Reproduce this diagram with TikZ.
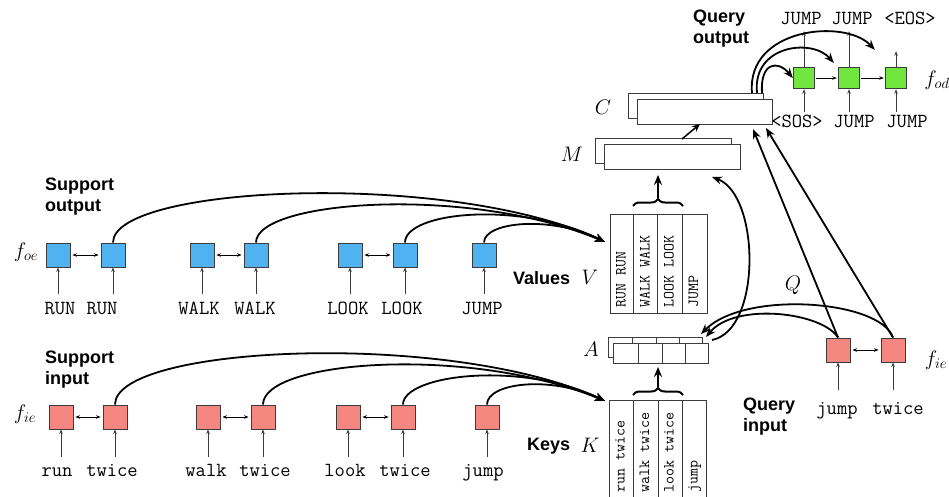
\RequirePackage{fix-cm}
\documentclass[tikz,border=0pt]{standalone}
\usepackage{fontspec}
\newfontfamily\headfont{Liberation Sans}
\usetikzlibrary{arrows.meta,decorations.pathreplacing,calc}
\definecolor{skyblue}{RGB}{80,178,240}
\definecolor{salmon}{RGB}{245,135,128}
\definecolor{lime}{RGB}{112,230,62}
\definecolor{edge}{RGB}{60,60,60}
\begin{document}
\begin{tikzpicture}[x=1pt,y=-1pt,
  cell/.style={draw=edge, line width=0.9pt, minimum size=24pt, inner sep=0pt},
  ocell/.style={cell, fill=skyblue},
  icell/.style={cell, fill=salmon},
  dcell/.style={cell, fill=lime, minimum size=21.5pt},
  tok/.style={font={\ttfamily\fontsize{20}{22}\selectfont}, inner sep=0pt, text height=11pt, text depth=3pt},
  vtok/.style={font={\ttfamily\fontsize{15.5}{16}\selectfont}, inner sep=0pt, rotate=90, anchor=west, text height=9pt, text depth=2pt},
  head/.style={font={\headfont\bfseries\fontsize{18}{21}\selectfont}, align=left, inner sep=0pt, anchor=west},
  sym/.style={font={\fontsize{21}{23}\selectfont}, inner sep=0pt},
  feed/.style={draw=edge, line width=0.8pt, -{Stealth[length=4.5pt,width=3.5pt]}},
  pair/.style={draw=black, line width=0.8pt, {Stealth[length=4.5pt,width=3.5pt]}-{Stealth[length=4.5pt,width=3.5pt]}, shorten <=2pt, shorten >=2pt},
  chain/.style={draw=black, line width=0.8pt, -{Stealth[length=4.5pt,width=3.5pt]}, shorten <=1pt, shorten >=1pt},
  link/.style={line width=1.8pt, -{Stealth[length=10pt,width=8pt]}},
  panel/.style={draw=edge, line width=0.9pt, fill=white, inner sep=0pt, anchor=north west},
  divider/.style={draw=edge, line width=0.9pt},
  bracket/.style={line width=2pt, decorate, decoration={brace, amplitude=7pt}},
]
\useasboundingbox (0,0) rectangle (949,497);

% ---------------- support output (blue encoder cells)
\foreach \n/\x in {1/58,2/113,3/202,4/256,5/350,6/405,7/484}
  \node[ocell] (so\n) at (\x,255) {};
\foreach \n/\x/\t in {1/60/RUN,2/102/RUN,3/199/WALK,4/255/WALK,5/348/LOOK,6/402/LOOK,7/482/JUMP}
  \node[tok] (wo\n) at (\x,310) {\t};
\foreach \n in {1,...,7}
  \draw[feed] ($(so\n.south |- wo\n.north)+(0,-9)$) -- (so\n.south);
\draw[pair] (so1) -- (so2);
\draw[pair] (so3) -- (so4);
\draw[pair] (so5) -- (so6);
\node[sym] (foe) at (26,252) {$f_{oe}$};
\node[head] (sohead) at (45,197) {Support\\output};

% ---------------- support input (red encoder cells)
\foreach \n/\x in {1/61,2/115,3/208,4/263,5/348,6/403,7/487}
  \node[icell] (si\n) at (\x,417) {};
\foreach \n/\x/\t in {1/57/run,2/112/twice,3/206/walk,4/265/twice,5/345/look,6/405/twice,7/483/jump}
  \node[tok] (wi\n) at (\x,472) {\t};
\foreach \n in {1,...,7}
  \draw[feed] ($(si\n.south |- wi\n.north)+(0,-8)$) -- (si\n.south);
\draw[pair] (si1) -- (si2);
\draw[pair] (si3) -- (si4);
\draw[pair] (si5) -- (si6);
\node[sym] (fie) at (25,414) {$f_{ie}$};
\node[head] (sihead) at (45,370) {Support\\input};

% ---------------- values V
\node[panel, minimum width=97pt, minimum height=99pt] (V) at (610,214) {};
\foreach \d in {23,47,72}
  \draw[divider] ([xshift=\d pt]V.north west) -- ([xshift=\d pt]V.south west);
\foreach \c/\t in {12/RUN RUN,36/WALK WALK,60/LOOK LOOK,84.5/JUMP}
  \node[vtok] at ([xshift=\c pt,yshift=6pt]V.south west) {\t};
\node[head] (vhead) at (513,278) {Values};
\node[sym] (vsym) at (590,277) {$V$};

% ---------------- keys K
\node[panel, minimum width=97pt, minimum height=100pt] (K) at (609,400) {};
\foreach \d in {24,49,73}
  \draw[divider] ([xshift=\d pt]K.north west) -- ([xshift=\d pt]K.south west);
\foreach \c/\t in {12/run twice,36.5/walk twice,61/look twice,85/jump}
  \node[vtok] at ([xshift=\c pt,yshift=8pt]K.south west) {\t};
\node[head] (khead) at (527,446) {Keys};
\node[sym] (ksym) at (590,445) {$K$};

% ---------------- attention A (stacked rows)
\node[panel, minimum width=94pt, minimum height=20pt] (Ab) at (608,337) {};
\foreach \d in {24,48,71}
  \draw[divider] ([xshift=\d pt]Ab.north west) -- ([xshift=\d pt]Ab.south west);
\node[panel, minimum width=95pt, minimum height=20pt] (A) at (613,343) {};
\foreach \d in {25,49,72}
  \draw[divider] ([xshift=\d pt]A.north west) -- ([xshift=\d pt]A.south west);
\node[sym] (asym) at (591,349) {$A$};

% ---------------- memory M and context C
\node[panel, minimum width=136pt, minimum height=25pt] (Mb) at (595,138) {};
\node[panel, minimum width=136pt, minimum height=25pt] (M) at (604,144) {};
\node[sym] (msym) at (572,154) {$M$};
\node[panel, minimum width=135pt, minimum height=25pt] (Cb) at (628,93) {};
\node[panel, minimum width=135pt, minimum height=25pt] (C) at (637,99) {};
\node[sym] (csym) at (603,107) {$C$};

% ---------------- braces gathering columns
\coordinate (vbl) at (633,206);
\coordinate (vbr) at (683,206);
\coordinate (vtip) at (658,198);
\draw[bracket] (vbl) -- (vbr);
\draw[link] (vtip) -- ($(vtip |- M.south)+(0,5)$);
\coordinate (kbl) at (633,395);
\coordinate (kbr) at (683,395);
\coordinate (ktip) at (658,387);
\draw[bracket] (kbl) -- (kbr);
\draw[link] (ktip) -- ($(ktip |- A.south)+(0,3)$);

% ---------------- query input (red cells)
\node[icell] (qi1) at (838,350) {};
\node[icell] (qi2) at (893,350) {};
\node[tok] (wq1) at (837,410) {jump};
\node[tok] (wq2) at (898,410) {twice};
\draw[feed] ($(qi1.south |- wq1.north)+(0,-13)$) -- (qi1.south);
\draw[feed] ($(qi2.south |- wq2.north)+(0,-13)$) -- (qi2.south);
\draw[pair] (qi1) -- (qi2);
\node[sym] (fie2) at (936,360) {$f_{ie}$};
\node[head] (qihead) at (743,417) {Query\\input};
\node[sym] (qsym) at (793,285) {$Q$};

% ---------------- query output (green decoder cells)
\node[dcell] (go1) at (804,78) {};
\node[dcell] (go2) at (849,78) {};
\node[dcell] (go3) at (896,78) {};
\draw[chain] (go1) -- (go2);
\draw[chain] (go2) -- (go3);
\node[tok] (gb1) at (797,124) {<SOS>};
\node[tok] (gb2) at (854,124) {JUMP};
\node[tok] (gb3) at (907,124) {JUMP};
\foreach \n in {1,2,3}
  \draw[feed] ($(go\n.south |- gb\n.north)+(0,-5)$) -- (go\n.south);
\node[tok] (gt1) at (801,21) {JUMP};
\node[tok] (gt2) at (852,21) {JUMP};
\node[tok] (gt3) at (910,21) {<EOS>};
\draw[feed] (go1.north) -- ($(go1.north |- gt1.south)+(0,3)$);
\draw[feed] (go2.north) -- ($(go2.north |- gt2.south)+(0,3)$);
\draw[feed] (go3.north) -- ($(go3.north |- gt3.south)+(0,23)$);
\node[sym] (fod) at (937,80) {$f_{od}$};
\node[head] (qohead) at (693,29) {Query\\output};

% ---------------- connectors
% support outputs into the value matrix
\coordinate (vin) at (605,242);
\draw[link] (so2.north) .. controls (113,185) and (450,170) .. (vin);
\draw[link] (so4.north) .. controls (256,200) and (470,185) .. (vin);
\draw[link] (so6.north) .. controls (405,212) and (520,200) .. (vin);
\draw[link] (so7.north) .. controls (484,222) and (550,215) .. (vin);
% support inputs into the key matrix
\coordinate (kin) at (605,401);
\draw[link] (si2.north) .. controls (115,345) and (450,330) .. (kin);
\draw[link] (si4.north) .. controls (263,360) and (470,345) .. (kin);
\draw[link] (si6.north) .. controls (403,375) and (520,360) .. (kin);
\draw[link] (si7.north) .. controls (487,383) and (550,375) .. (kin);
% query against keys
\coordinate (a1) at (701,334);
\coordinate (a2) at (706,337);
\draw[link] (qi1.north) .. controls (822,312) and (735,302) .. (a2);
\draw[link] (qi2.north) .. controls (880,300) and (745,290) .. (a1);
% attention weights onto memory
\coordinate (aout) at (712,340);
\coordinate (min) at (712,177);
\draw[link] (aout) .. controls (762,330) and (760,195) .. (min);
% memory to context
\coordinate (mout) at (682,139);
\coordinate (cin) at (700,124);
\draw[line width=1.5pt, -{Stealth[length=8pt,width=7pt]}] (mout) -- (cin);
% query straight into context
\coordinate (cq1) at (753,129);
\coordinate (cq2) at (766,128);
\draw[link] (qi1.north) -- (cq1);
\draw[link] (qi2.north) -- (cq2);
% context into each decoder step
\coordinate (c1) at (762,93);
\coordinate (c2) at (757,93);
\coordinate (c3) at (752,93);
\draw[link] (c1) .. controls (760,62) and (778,60) .. (go1.west);
\draw[link] (c2) .. controls (752,45) and (812,38) .. ($(go2.north west)+(-4,-4)$);
\draw[link] (c3) .. controls (746,28) and (845,18) .. ($(go3.north west)+(-10,-17)$);
\end{tikzpicture}
\end{document}
